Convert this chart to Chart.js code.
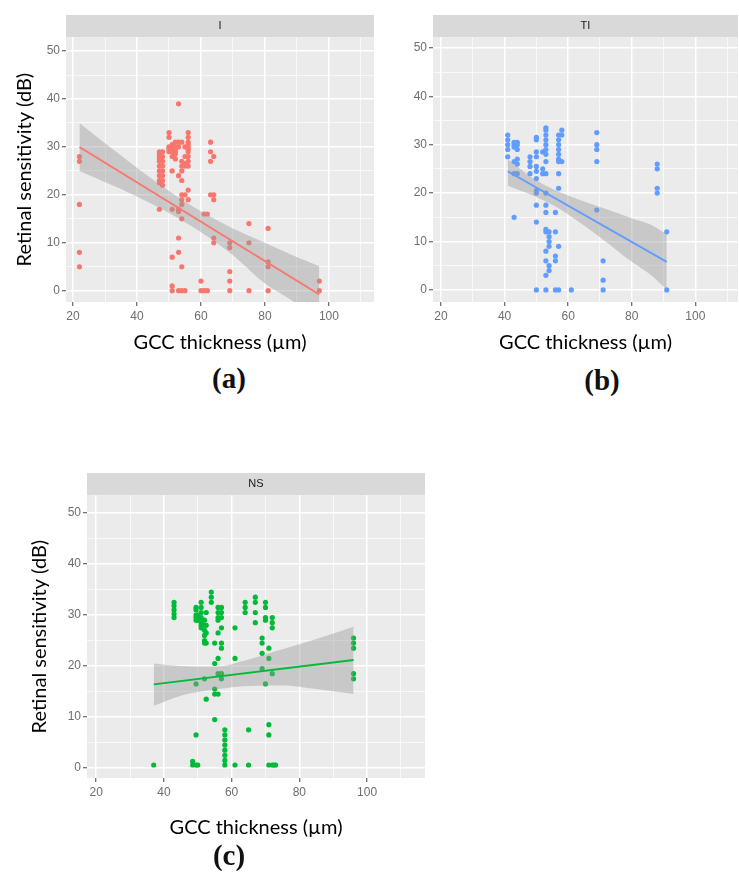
<!DOCTYPE html>
<html><head><meta charset="utf-8">
<script src="https://cdn.jsdelivr.net/npm/chart.js@4.4.0/dist/chart.umd.min.js"></script>
<style>
html,body{margin:0;padding:0;background:#fff;}
body{width:739px;height:876px;position:relative;overflow:hidden;}
canvas{position:absolute;}
.lab{position:absolute;font-family:'Liberation Serif','DejaVu Serif',serif;font-weight:bold;font-size:29px;transform:translate(-50%,-50%);color:#111;white-space:nowrap;}
</style></head><body>
<canvas id="pa" width="378" height="360" style="left:0;top:0;width:378px;height:360px"></canvas>
<canvas id="pb" width="362" height="360" style="left:380px;top:0;width:362px;height:360px"></canvas>
<canvas id="pc" width="440" height="400" style="left:0;top:440px;width:440px;height:400px"></canvas>
<div class="lab" style="left:229px;top:378px">(a)</div>
<div class="lab" style="left:602px;top:380px">(b)</div>
<div class="lab" style="left:229px;top:855px">(c)</div>
<script>
// ---- tick labels & texts ----
const xMajorTicks = [20, 40, 60, 80, 100];
const xMinorTicks = [30, 50, 70, 90, 110];
const yMajorTicks = [0, 10, 20, 30, 40, 50];
const yMinorTicks = [5, 15, 25, 35, 45];
const panelNames = ['I', 'TI', 'NS'];
const panelLetters = ['(a)', '(b)', '(c)'];
const xTitle = 'GCC thickness (µm)';
const yTitle = 'Retinal sensitivity (dB)';

// ---- panel I (red) : points grouped by GCC thickness ----
const iColX = [22, 47, 48, 50, 51, 52, 53, 54, 55, 56, 60, 61, 62, 63, 64, 69, 75, 81, 97];
const iColY = [
  [28, 27, 18, 8, 5],
  [29, 28.5, 28, 27.5, 27, 26, 25, 24, 23, 22.5, 17],
  [29, 28, 27, 26, 25, 24, 23, 22],
  [33, 32, 30, 29.5, 29],
  [30.5, 30, 29.5, 29, 28, 25, 17, 7, 1, 0],
  [31, 30, 29.5, 29, 28.5, 27.5],
  [39, 31, 30, 24, 17, 16.5, 11, 8, 0],
  [31, 27, 26, 25, 23, 20, 19, 18, 15, 5, 0],
  [30, 28, 26.5, 26, 20, 0],
  [33, 32, 31, 30.5, 30, 29.5, 29, 28, 27, 26, 21, 19],
  [2, 0],
  [16, 0],
  [16, 0],
  [31, 29, 27, 20],
  [28, 20, 19, 11, 10],
  [10, 9, 4, 2, 0],
  [14, 10, 0],
  [13, 6, 5, 0],
  [2, 0]
];
const iFitX = [22, 97];
const iFitY = [30, -0.8];
const iBandX = [22, 35, 50, 60, 70, 80, 89, 97];
const iBandUpper = [35, 28.2, 20.8, 16.6, 13.0, 10.0, 7.3, 5.1];
const iBandLower = [25, 21.2, 16.2, 12.2, 7.4, 1.5, -2.3, -6.7];

// ---- panel TI (blue) ----
const tiColX = [41, 43, 44, 48, 50, 52, 53, 54, 56, 57, 58, 61, 69, 71, 88, 91];
const tiColY = [
  [32, 31, 30, 29, 27.5],
  [30.5, 30, 29.5, 26.5, 24, 15],
  [30.5, 30, 29, 27, 26, 24],
  [27.5, 26.5, 25.5, 24],
  [31.5, 31, 28.5, 27.5, 25.5, 24.5, 23, 20.5, 20, 17.5, 14, 0],
  [28.5, 25, 24],
  [33.5, 33, 32, 31, 30, 29, 28, 26.5, 24, 20, 17.5, 16, 12.5, 12, 8, 6, 3, 0],
  [12, 11, 10, 9, 5, 4],
  [16, 12, 7, 6, 0],
  [32, 31, 30, 29, 28, 27, 26.5, 24, 21, 9, 0],
  [33, 32, 26.5],
  [0],
  [32.5, 30, 29, 26.5, 16.5],
  [6, 2, 0],
  [26, 25, 21, 20],
  [12, 0]
];
const tiFitX = [41, 91];
const tiFitY = [24.5, 5.8];
const tiBandX = [41, 50, 55, 60, 70, 80, 86.5, 91];
const tiBandUpper = [27, 22.6, 20.9, 19.5, 17.1, 14.8, 13.3, 11.5];
const tiBandLower = [21.5, 19.2, 17.6, 15.6, 10.9, 5.8, 2.8, 0];

// ---- panel NS (green) ----
const nsColX = [37, 43, 48.5, 49.5, 50, 51, 52, 52.5, 54, 55, 56, 57, 58, 61, 64, 65, 67, 69, 70, 71, 72, 72.5, 73, 96];
const nsColY = [
  [0.6],
  [32.5, 31.8, 31, 30.2, 29.5],
  [1.3, 0.6],
  [31.5, 31, 30, 29.5, 29, 16.5, 6.5, 0.6],
  [30, 29, 0.6],
  [32.5, 31.5, 30.5, 29.5, 28.5, 28, 27.5],
  [29, 28, 27, 26, 25, 24.5, 17.5],
  [30.5, 28, 26.5, 24.5, 13.5],
  [34.5, 33.5, 32.5],
  [24.5, 20.5, 15.5, 14.5, 9.5],
  [31.5, 30.5, 29.5, 29, 26.5, 21.5, 18.5, 14.5],
  [31.5, 30.5, 29.5, 27.5, 24.5, 23.5, 18.5, 17.5],
  [7.5, 6.5, 5.5, 4.5, 3.5, 2.5, 1.5, 0.6],
  [27.5, 21.5, 0.6],
  [32.5, 31.5, 30.5],
  [7.5, 0.6],
  [33.5, 32.5, 30.5, 28.5],
  [25.5, 24.5, 22.5, 19.5],
  [32.5, 31.5, 29.5, 29, 16.5],
  [23.5, 21.5, 8.5, 6.5, 0.6],
  [29.5, 28.5, 27.5, 18.5, 0.6],
  [0.6],
  [0.6],
  [25.5, 24.5, 23.5, 18.5, 17.5]
];
const nsFitX = [37, 96];
const nsFitY = [16.4, 21.2];
const nsBandX = [37, 45, 55, 65, 75, 85, 96];
const nsBandUpper = [20.5, 20.0, 19.9, 21.3, 23.3, 25.3, 27.7];
const nsBandLower = [12.2, 14.2, 15.4, 16.1, 16.2, 15.5, 14.5];

// ---- helpers ----
const toXY = (xs, ys) => xs.map((x, i) => ({x: x, y: ys[i]}));
const colsToXY = (cx, cy) => {
  const out = [];
  cx.forEach((x, i) => cy[i].forEach(y => out.push({x: x, y: y})));
  return out;
};

Chart.defaults.font.family = "'Liberation Sans', Arial, sans-serif";
Chart.defaults.animation = false;

const stripPlugin = {
  id: 'strip',
  beforeDraw(chart) {
    const {ctx, chartArea: a} = chart;
    const tb = chart.titleBlock;
    ctx.save();
    ctx.fillStyle = '#D9D9D9';
    ctx.fillRect(a.left, tb.top, a.right - a.left, a.top - tb.top);
    ctx.fillStyle = '#EBEBEB';
    ctx.fillRect(a.left, a.top, a.right - a.left, a.bottom - a.top);
    ctx.restore();
  }
};

function isMajor(list, v) { return list.some(t => Math.abs(t - v) < 1e-9); }

function makePanel(id, p) {
  const xt = xMajorTicks.concat(xMinorTicks).sort((a, b) => a - b).filter(v => v >= p.xmin && v <= p.xmax);
  const yt = yMajorTicks.concat(yMinorTicks).sort((a, b) => a - b).filter(v => v >= p.ymin && v <= p.ymax);
  new Chart(document.getElementById(id), {
    type: 'line',
    data: {
      datasets: [
        {label: 'fit', data: toXY(p.fitX, p.fitY), borderColor: p.color, borderWidth: 1.9,
         pointRadius: 0, fill: false, tension: 0},
        {label: 'upper', data: toXY(p.bandX, p.bandU), borderWidth: 0, borderColor: 'rgba(0,0,0,0)',
         pointRadius: 0, fill: '+1', backgroundColor: 'rgba(153,153,153,0.42)', cubicInterpolationMode: 'monotone'},
        {label: 'lower', data: toXY(p.bandX, p.bandL), borderWidth: 0, borderColor: 'rgba(0,0,0,0)',
         pointRadius: 0, fill: false, cubicInterpolationMode: 'monotone'},
        {label: 'points', data: colsToXY(p.colX, p.colY), showLine: false, pointRadius: 2.6,
         pointBorderWidth: 0, pointBackgroundColor: p.color, backgroundColor: p.color, borderColor: p.color}
      ]
    },
    options: {
      responsive: false,
      animation: false,
      layout: {padding: p.pad},
      plugins: {
        legend: {display: false},
        tooltip: {enabled: false},
        title: {display: true, text: p.name, position: 'top', fullSize: false, color: '#1A1A1A',
                font: {size: 11, weight: 'normal'}, padding: {top: 4.5, bottom: 4.5}}
      },
      scales: {
        x: {
          type: 'linear', min: p.xmin, max: p.xmax,
          afterBuildTicks: s => { s.ticks = xt.map(v => ({value: v})); },
          afterFit: s => { s.height = p.xh; },
          border: {display: false},
          grid: {
            color: '#FFFFFF',
            lineWidth: c => (c.tick && isMajor(xMajorTicks, c.tick.value)) ? 1.5 : 0.7,
            tickColor: c => (c.tick && isMajor(xMajorTicks, c.tick.value)) ? '#444' : 'rgba(0,0,0,0)',
            tickLength: 4, tickWidth: 1, drawTicks: true
          },
          ticks: {
            autoSkip: false, maxRotation: 0, minRotation: 0, padding: 3, color: '#6E6E6E',
            font: {size: 12},
            callback: v => isMajor(xMajorTicks, v) ? String(v) : ''
          },
          title: {display: true, text: xTitle, color: '#000',
                  font: {family: "Lato, 'Open Sans', sans-serif", size: 20},
                  padding: {top: 0, bottom: p.xtPad}}
        },
        y: {
          type: 'linear', min: p.ymin, max: p.ymax,
          afterBuildTicks: s => { s.ticks = yt.map(v => ({value: v})); },
          afterFit: s => { s.width = p.yw; },
          border: {display: false},
          grid: {
            color: '#FFFFFF',
            lineWidth: c => (c.tick && isMajor(yMajorTicks, c.tick.value)) ? 1.5 : 0.7,
            tickColor: c => (c.tick && isMajor(yMajorTicks, c.tick.value)) ? '#444' : 'rgba(0,0,0,0)',
            tickLength: 4, tickWidth: 1, drawTicks: true
          },
          ticks: {
            autoSkip: false, padding: 2, color: '#6E6E6E', font: {size: 12},
            callback: v => isMajor(yMajorTicks, v) ? String(v) : ''
          },
          title: {display: p.showY, text: yTitle, color: '#000',
                  font: {family: "Lato, 'Open Sans', sans-serif", size: 20},
                  padding: {top: p.ytPad, bottom: 0}}
        }
      }
    },
    plugins: [stripPlugin]
  });
}

makePanel('pa', {
  name: panelNames[0], color: '#F8766D',
  colX: iColX, colY: iColY, fitX: iFitX, fitY: iFitY, bandX: iBandX, bandU: iBandUpper, bandL: iBandLower,
  xmin: 17.8, xmax: 114.1, ymin: -2.36, ymax: 52.9,
  pad: {top: 15, left: 0, right: 1, bottom: 0}, yw: 66, xh: 58, xtPad: 5, ytPad: 13, showY: true
});
makePanel('pb', {
  name: panelNames[1], color: '#619CFF',
  colX: tiColX, colY: tiColY, fitX: tiFitX, fitY: tiFitY, bandX: tiBandX, bandU: tiBandUpper, bandL: tiBandLower,
  xmin: 17.5, xmax: 113.4, ymin: -2.5, ymax: 52.2,
  pad: {top: 15, left: 0, right: 0, bottom: 0}, yw: 53, xh: 58, xtPad: 5, ytPad: 0, showY: false
});
makePanel('pc', {
  name: panelNames[2], color: '#00BA38',
  colX: nsColX, colY: nsColY, fitX: nsFitX, fitY: nsFitY, bandX: nsBandX, bandU: nsBandUpper, bandL: nsBandLower,
  xmin: 17.3, xmax: 117.1, ymin: -1.95, ymax: 53.5,
  pad: {top: 33, left: 0, right: 15, bottom: 0}, yw: 87, xh: 62, xtPad: 0, ytPad: 28, showY: true
});
</script>
</body></html>
